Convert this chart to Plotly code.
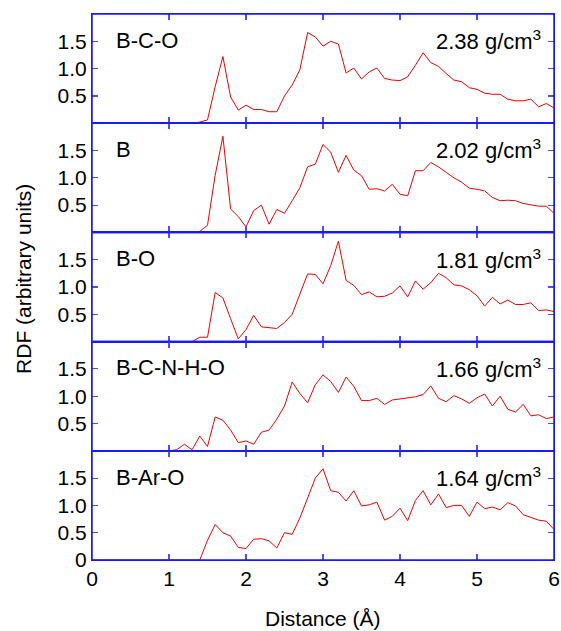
import plotly.graph_objects as go
from plotly.subplots import make_subplots

distance = [round(i * 0.1, 1) for i in range(61)]

labels = ["B-C-O", "B", "B-O", "B-C-N-H-O", "B-Ar-O"]
densities = ["2.38", "2.02", "1.81", "1.66", "1.64"]

rdf_bco = [0]*14 + [0.02, 0.06, 0.67, 1.22, 0.48, 0.24, 0.33, 0.25, 0.25, 0.21, 0.21,
                    0.50, 0.70, 0.98, 1.66, 1.58, 1.41, 1.50, 1.45, 0.92, 1.01,
                    0.81, 0.94, 1.01, 0.82, 0.79, 0.78, 0.85, 1.06, 1.29, 1.11,
                    1.04, 0.91, 0.79, 0.76, 0.65, 0.62, 0.55, 0.53, 0.53, 0.44,
                    0.41, 0.41, 0.44, 0.30, 0.36, 0.28]
rdf_b = [0]*14 + [0.02, 0.13, 1.05, 1.76, 0.43, 0.29, 0.10, 0.40, 0.50, 0.15, 0.42,
                  0.35, 0.58, 0.82, 1.20, 1.25, 1.61, 1.47, 1.10, 1.41, 1.14,
                  1.04, 0.79, 0.80, 0.76, 0.88, 0.70, 0.67, 1.13, 1.13, 1.28,
                  1.20, 1.10, 1.00, 0.92, 0.81, 0.79, 0.76, 0.64, 0.58, 0.59,
                  0.58, 0.53, 0.50, 0.48, 0.48, 0.35]
rdf_bo = [0]*14 + [0.08, 0.08, 0.90, 0.80, 0.42, 0.05, 0.22, 0.48, 0.27, 0.26, 0.24,
                   0.35, 0.50, 0.87, 1.24, 1.23, 1.06, 1.39, 1.84, 1.12, 1.03,
                   0.86, 0.91, 0.82, 0.83, 0.89, 1.02, 0.82, 1.11, 0.96, 1.08,
                   1.25, 1.17, 1.04, 1.02, 0.95, 0.84, 0.65, 0.81, 0.69, 0.76,
                   0.68, 0.68, 0.71, 0.57, 0.58, 0.55]
rdf_bcnho = [0]*11 + [0.02, 0.12, 0.02, 0.27, 0.08, 0.62, 0.56, 0.38, 0.15, 0.18, 0.12,
                      0.34, 0.38, 0.58, 0.82, 1.26, 1.05, 0.88, 1.21, 1.39, 1.27,
                      1.07, 1.35, 1.18, 0.92, 0.92, 0.96, 0.85, 0.93, 0.95, 0.98,
                      0.99, 1.03, 1.19, 0.96, 0.90, 1.01, 0.95, 0.87, 0.97, 1.04,
                      0.82, 1.00, 0.76, 0.71, 0.85, 0.64, 0.66, 0.59, 0.62]
rdf_baro = [0]*15 + [0.36, 0.65, 0.50, 0.44, 0.23, 0.21, 0.38, 0.39, 0.35, 0.22,
                     0.50, 0.47, 0.77, 1.13, 1.50, 1.67, 1.27, 1.24, 1.08, 1.27,
                     0.99, 1.01, 1.06, 0.73, 0.80, 0.95, 0.72, 1.09, 1.27, 1.01,
                     1.21, 0.96, 1.00, 1.00, 0.80, 1.06, 0.94, 0.97, 0.92, 1.05,
                     0.99, 0.83, 0.78, 0.73, 0.71, 0.56]

series = [rdf_bco, rdf_b, rdf_bo, rdf_bcnho, rdf_baro]

FONT = "Liberation Sans, Arial, Helvetica, sans-serif"
AXIS_BLUE = "#1a1aff"
TICK_BLUE = "#4d4dff"

fig = make_subplots(rows=5, cols=1, shared_xaxes=True, vertical_spacing=0)

for i, ys in enumerate(series):
    fig.add_trace(go.Scatter(x=distance, y=ys, mode="lines",
                             line=dict(color="#ee0000", width=1),
                             showlegend=False, hoverinfo="skip"), row=i + 1, col=1)
    last = (i == 4)
    fig.update_yaxes(range=[0, 2.0], automargin=False,
                     tickvals=[0, 0.5, 1.0, 1.5] if last else [0.5, 1.0, 1.5],
                     ticktext=["0", "0.5", "1.0", "1.5"] if last else ["0.5", "1.0", "1.5"],
                     ticks="inside", ticklen=6, tickcolor=TICK_BLUE, tickwidth=1.2,
                     showline=True, linecolor=AXIS_BLUE, linewidth=1, mirror="ticks",
                     showgrid=False, zeroline=False,
                     tickfont=dict(family=FONT, size=21, color="black"),
                     row=i + 1, col=1)
    fig.update_xaxes(range=[0, 6], automargin=False, tickvals=[0, 1, 2, 3, 4, 5, 6],
                     ticks="inside", ticklen=6, tickcolor=TICK_BLUE, tickwidth=1.2,
                     showline=True, linecolor=AXIS_BLUE, linewidth=1, mirror="ticks",
                     showgrid=False, zeroline=False, showticklabels=last,
                     tickfont=dict(family=FONT, size=21, color="black"),
                     row=i + 1, col=1)
    xr = "x domain" if i == 0 else f"x{i+1} domain"
    yr = "y domain" if i == 0 else f"y{i+1} domain"
    fig.add_shape(type="rect", xref=xr, yref=yr, x0=0, x1=1, y0=0, y1=1,
                  line=dict(color=AXIS_BLUE, width=1.5), fillcolor="rgba(0,0,0,0)",
                  layer="above")
    fig.add_annotation(x=0.047, y=0.76, xref=xr, yref=yr, text=labels[i],
                       showarrow=False, xanchor="left", yanchor="middle",
                       font=dict(family=FONT, size=22, color="black"))
    fig.add_annotation(x=0.977, y=0.76, xref=xr, yref=yr,
                       text=f"{densities[i]} g/cm<sup>3</sup>",
                       showarrow=False, xanchor="right", yanchor="middle",
                       font=dict(family=FONT, size=22, color="black"))

fig.add_annotation(text="RDF (arbitrary units)", xref="paper", yref="paper",
                   x=-0.147, y=0.515, textangle=-90, showarrow=False,
                   xanchor="center", yanchor="middle",
                   font=dict(family=FONT, size=21, color="black"))
fig.add_annotation(text="Distance (Å)", xref="paper", yref="paper",
                   x=0.5, y=-0.107, showarrow=False,
                   xanchor="center", yanchor="middle",
                   font=dict(family=FONT, size=21, color="black"))

fig.update_layout(width=561, height=631,
                  margin=dict(l=92, r=7, t=14, b=71, autoexpand=False),
                  paper_bgcolor="white", plot_bgcolor="white",
                  font=dict(family=FONT, color="black"))

# remove the page's default body margin so the figure fills the window exactly
fig.write_html("out.html",
               config={"displayModeBar": False, "staticPlot": True},
               post_script="document.body.style.margin='0';document.body.style.overflow='hidden';")
